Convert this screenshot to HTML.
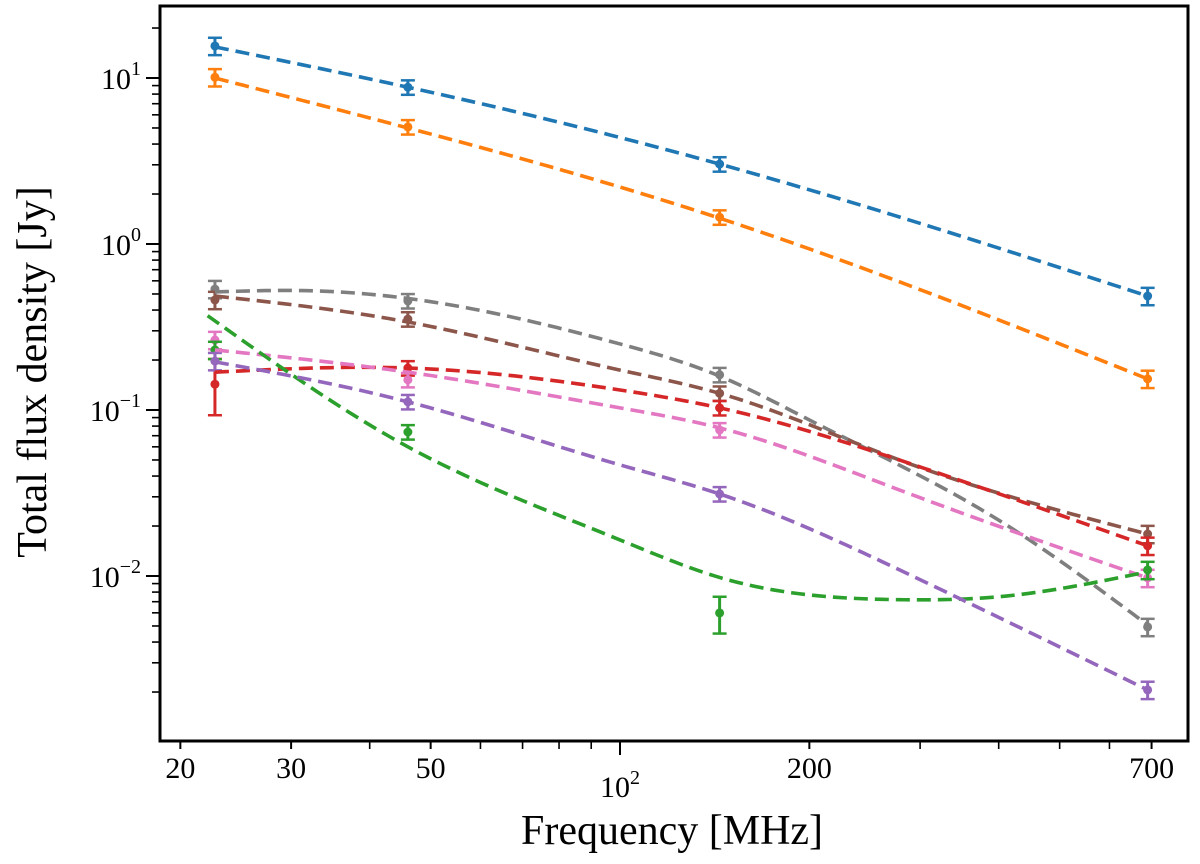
<!DOCTYPE html>
<html><head><meta charset="utf-8"><style>
html,body{margin:0;padding:0;background:#fff;}
svg{display:block;font-family:"Liberation Serif",serif;}
</style></head><body>
<svg id="chart" width="1200" height="864"></svg>
<script>
const freqs = [22.7, 46, 144, 690];
const seriesNames = ["blue","orange","gray","brown","red","pink","green","purple"];
const colors = ["#1f77b4","#ff7f0e","#7f7f7f","#8c564b","#d62728","#e377c2","#2ca02c","#9467bd"];
const fluxBlue = [15.6, 8.8, 3.03, 0.486];
const fluxOrange = [10.1, 5.07, 1.45, 0.154];
const fluxGray = [0.535, 0.454, 0.163, 0.00493];
const fluxBrown = [0.46, 0.353, 0.126, 0.0179];
const fluxRed = [0.143, 0.179, 0.103, 0.0152];
const fluxPink = [0.264, 0.152, 0.0758, 0.00973];
const fluxGreen = [0.23, 0.0737, 0.00599, 0.01087];
const fluxPurple = [0.197, 0.112, 0.0312, 0.00206];
const relErr = [0.12, 0.1, 0.1, 0.12];
const errRedLow = 0.05, errRedHigh = 0.06;
const fitFreqBlue = [22.7, 46, 144, 690];
const fitBlue = [15.4, 8.8, 3.03, 0.486];
const fitFreqOrange = [22.7, 46, 144, 690];
const fitOrange = [10.0, 5.0, 1.43, 0.154];
const fitFreqGray = [22.7, 30, 46, 100, 144, 200, 400, 690];
const fitGray = [0.514, 0.525, 0.47, 0.25, 0.16, 0.0871, 0.0217, 0.00507];
const fitFreq6 = [22.7, 46, 100, 144, 278, 690];
const fitBrown = [0.486, 0.339, 0.174, 0.126, 0.050, 0.0179];
const fitRed = [0.169, 0.179, 0.132, 0.103, 0.050, 0.0152];
const fitPink = [0.230, 0.169, 0.103, 0.078, 0.033, 0.00973];
const fitPurple = [0.195, 0.112, 0.0467, 0.0312, 0.0109, 0.00206];
const fitFreqGreen = [22.1, 46, 100, 144, 278, 400, 690];
const fitGreen = [0.37, 0.06, 0.0165, 0.0098, 0.0072, 0.0075, 0.0106];
const xMajor = [20, 30, 50, 100, 200, 700];
const xMajorLabels = ["20","30","50","10<tspan dy='-13' font-size='20'>2</tspan>","200","700"];
const xMinor = [40, 60, 70, 80, 90, 300, 400, 500, 600];
const yDecades = [-3, -2, -1, 0, 1];

const NS="http://www.w3.org/2000/svg";
const svg=document.getElementById('chart');
const L=160,R=1188,T=6,B=741;
function X(f){return 620+629*(Math.log10(f)-2);}
function Y(v){return 244-166*Math.log10(v);}
function mk(tag,attrs,parent){const e=document.createElementNS(NS,tag);for(const k in attrs)e.setAttribute(k,attrs[k]);(parent||svg).appendChild(e);return e;}

const clip=mk('clipPath',{id:'pc'});mk('rect',{x:L,y:T,width:R-L,height:B-T},clip);
const plot=mk('g',{'clip-path':'url(#pc)'});



// natural cubic spline in pixel space
function pathFor(fx,fy){
  const xs=fx.map(X), ys=fy.map(Y), n=xs.length;
  if(n<3){return `M${xs[0]},${ys[0]} L${xs[1]},${ys[1]}`;}
  const h=[],al=[],l=[1],mu=[0],z=[0],c=new Array(n).fill(0),b=[],d=[];
  for(let i=0;i<n-1;i++)h.push(xs[i+1]-xs[i]);
  for(let i=1;i<n-1;i++)al[i]=3/h[i]*(ys[i+1]-ys[i])-3/h[i-1]*(ys[i]-ys[i-1]);
  for(let i=1;i<n-1;i++){l[i]=2*(xs[i+1]-xs[i-1])-h[i-1]*mu[i-1];mu[i]=h[i]/l[i];z[i]=(al[i]-h[i-1]*z[i-1])/l[i];}
  l[n-1]=1;z[n-1]=0;c[n-1]=0;
  for(let j=n-2;j>=0;j--){c[j]=z[j]-mu[j]*c[j+1];b[j]=(ys[j+1]-ys[j])/h[j]-h[j]*(c[j+1]+2*c[j])/3;d[j]=(c[j+1]-c[j])/(3*h[j]);}
  let p=`M${xs[0]},${ys[0]}`;
  for(let j=0;j<n-1;j++){
    for(let k=1;k<=20;k++){const t=h[j]*k/20;p+=` L${(xs[j]+t).toFixed(2)},${(ys[j]+b[j]*t+c[j]*t*t+d[j]*t*t*t).toFixed(2)}`;}
  }
  return p;
}
const fits=[[fitFreqBlue,fitBlue],[fitFreqOrange,fitOrange],[fitFreqGray,fitGray],[fitFreq6,fitBrown],[fitFreq6,fitRed],[fitFreq6,fitPink],[fitFreqGreen,fitGreen],[fitFreq6,fitPurple]];
const datas=[fluxBlue,fluxOrange,fluxGray,fluxBrown,fluxRed,fluxPink,fluxGreen,fluxPurple];
datas.forEach((ds,s)=>{
  const c=colors[s];
  ds.forEach((v,i)=>{
    let lo=v*(1-relErr[i]),hi=v*(1+relErr[i]);
    if(s===4&&i===0){lo=v-errRedLow;hi=v+errRedHigh;}
    if(s===6&&i===2){lo=0.0045;hi=0.0075;}
    const x=X(freqs[i]);
    const g=mk('g',{},plot);
    
    
    mk('line',{x1:x,x2:x,y1:Y(lo),y2:Y(hi),stroke:c,'stroke-width':3},g);
    mk('line',{x1:x-7,x2:x+7,y1:Y(lo),y2:Y(lo),stroke:c,'stroke-width':2.5},g);
    mk('line',{x1:x-7,x2:x+7,y1:Y(hi),y2:Y(hi),stroke:c,'stroke-width':2.5},g);
    const pt=mk('circle',{cx:x,cy:Y(v),r:4.5,fill:c},g);
    
    
  });
});
fits.forEach(([fx,fy],s)=>{
  const p=mk('path',{d:pathFor(fx,fy),fill:'none',stroke:colors[s],'stroke-width':3.6,'stroke-dasharray':'14,7'},plot);
  
  
});

const fr=mk('rect',{x:L,y:T,width:R-L,height:B-T,fill:'none',stroke:'#000','stroke-width':3});



xMajor.forEach((f,i)=>{
  const x=X(f);
  const len=f===100?14:8;
  const t=mk('line',{x1:x,x2:x,y1:B,y2:B+len,stroke:'#000','stroke-width':2});
  
  
  const tx=mk('text',{x:x,y:f===100?797:778,'text-anchor':'middle','font-size':30});
  tx.innerHTML=xMajorLabels[i];
  
  
});
xMinor.forEach(f=>{
  const x=X(f);
  const t=mk('line',{x1:x,x2:x,y1:B,y2:B+8,stroke:'#000','stroke-width':1.6});
  
  
});
yDecades.forEach(d=>{
  const y=Y(Math.pow(10,d));
  if(y>T-1&&y<B+1){
    const t=mk('line',{x1:L-14,x2:L,y1:y,y2:y,stroke:'#000','stroke-width':2});
    
    
    if(d>-3){
      const tx=mk('text',{x:141,y:y+11,'text-anchor':'end','font-size':30});
      tx.innerHTML="10<tspan dy='-14' font-size='20'>"+(d<0?"−"+(-d):d)+"</tspan>";
      
      
    }
  }
  for(let m=2;m<=9;m++){
    const ym=Y(m*Math.pow(10,d));
    if(ym>T&&ym<B){
      const t=mk('line',{x1:L-8,x2:L,y1:ym,y2:ym,stroke:'#000','stroke-width':1.6});
      
      
    }
  }
});
const xl=mk('text',{x:672,y:844,'text-anchor':'middle','font-size':42});
xl.textContent='Frequency [MHz]';


const yl=mk('text',{x:0,y:0,'text-anchor':'middle','font-size':42,transform:'translate(46,372) rotate(-90)'});
yl.textContent='Total flux density [Jy]';


</script>
</body></html>
